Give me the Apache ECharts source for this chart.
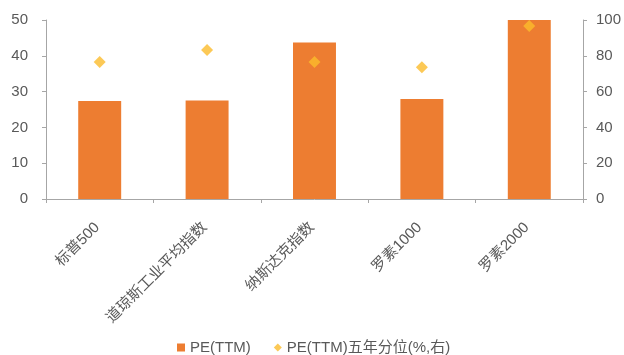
<!DOCTYPE html>
<html><head><meta charset="utf-8">
<script src="https://cdn.jsdelivr.net/npm/echarts@6/dist/echarts.min.js"></script>
<style>html,body{margin:0;padding:0;background:#fff}#c{width:624px;height:355px}</style>
</head><body><div id="c"></div>
<script>
const categories = ['标普500','道琼斯工业平均指数','纳斯达克指数','罗素1000','罗素2000'];
const peTTM = [27.4, 27.5, 43.7, 27.9, 50.0];
const pePercentile = [76.5, 83.2, 76.5, 73.6, 96.6];
const leftTicks = {min:0, max:50, interval:10};
const rightTicks = {min:0, max:100, interval:20};

const FONT = "'Liberation Sans','Noto Sans CJK SC',sans-serif";
const axisColor = '#A6A6A6';
const labelColor = '#595959';
const chart = echarts.init(document.getElementById('c'));
chart.setOption({
  animation:false,
  textStyle:{fontFamily:FONT},
  grid:{left:46, right:41, top:20, bottom:156, containLabel:false},
  legend:{
    top:335, left:172, itemGap:23, itemWidth:8, itemHeight:8,
    textStyle:{fontSize:15, color:labelColor, fontFamily:FONT},
    data:[{name:'PE(TTM)', icon:'rect'},{name:'PE(TTM)五年分位(%,右)', icon:'diamond'}]
  },
  xAxis:{
    type:'category', data:categories,
    axisLine:{lineStyle:{color:axisColor}},
    axisTick:{show:true, alignWithLabel:false, length:4, lineStyle:{color:axisColor}},
    axisLabel:{rotate:45, fontSize:15, color:labelColor, interval:0, margin:13, verticalAlign:'top',
      padding:[0,11,0,0], fontFamily:FONT}
  },
  yAxis:[
    {type:'value', min:leftTicks.min, max:leftTicks.max, interval:leftTicks.interval,
     axisLine:{show:true, lineStyle:{color:axisColor}},
     axisTick:{show:true, length:4, lineStyle:{color:axisColor}},
     splitLine:{show:false},
     axisLabel:{fontSize:15, color:labelColor, margin:18, fontFamily:FONT}},
    {type:'value', min:rightTicks.min, max:rightTicks.max, interval:rightTicks.interval, position:'right',
     axisLine:{show:true, lineStyle:{color:axisColor}},
     axisTick:{show:true, length:4, lineStyle:{color:axisColor}},
     splitLine:{show:false},
     axisLabel:{fontSize:15, color:labelColor, margin:13, fontFamily:FONT}}
  ],
  series:[
    {name:'PE(TTM)', type:'bar', data:peTTM, barWidth:'40%', yAxisIndex:0,
     itemStyle:{color:'#ED7D31'}},
    {name:'PE(TTM)五年分位(%,右)', type:'scatter', data:pePercentile, yAxisIndex:1,
     symbol:'diamond', symbolSize:12, itemStyle:{color:'#FBBC2C'}}
  ]
});
</script></body></html>
